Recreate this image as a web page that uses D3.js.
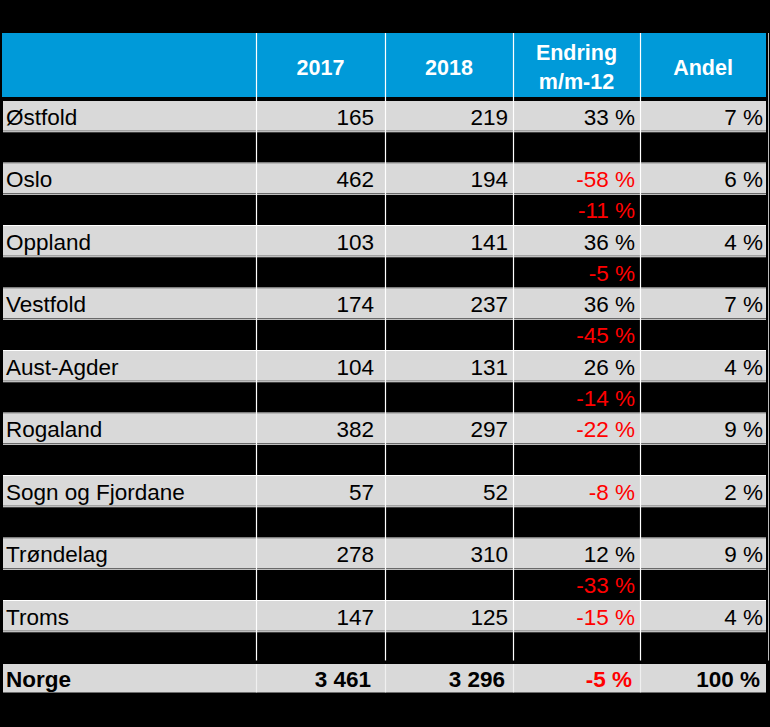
<!DOCTYPE html>
<html>
<head>
<meta charset="utf-8">
<script src="https://cdn.jsdelivr.net/npm/d3@7"></script>
<style>
  html, body { margin: 0; padding: 0; background: #000; }
  svg { display: block; }
  text { font-family: "Liberation Sans", Arial, sans-serif; }
</style>
</head>
<body>
<svg id="chart" width="770" height="727"></svg>
<script>
// ---- Data ----
const headers = ["", "2017", "2018", "Endring\nm/m-12", "Andel"];
const regions = ["Østfold", "Oslo", "Oppland", "Vestfold", "Aust-Agder", "Rogaland", "Sogn og Fjordane", "Trøndelag", "Troms"];
const values2017 = [165, 462, 103, 174, 104, 382, 57, 278, 147];
const values2018 = [219, 194, 141, 237, 131, 297, 52, 310, 125];
const changes = [33, -58, 36, 36, 26, -22, -8, 12, -15];
const shares = [7, 6, 4, 7, 4, 9, 2, 9, 4];
// values shown in the black spacer row below each region
const spacerChanges = [null, -11, -5, -45, -14, null, null, -33, null];
const totalLabel = "Norge";
const total2017 = 3461;
const total2018 = 3296;
const totalChange = -5;
const totalShare = 100;

// ---- Layout ----
const svg = d3.select("#chart");
const colEdges = [2, 256, 385, 513, 640, 766];
const colRightText = [null, 374, 508, 635, 763];
const headerTop = 33, headerBottom = 97;
const nRows = regions.length * 2 + 1; // region rows + spacer rows + total
const y = d3.scaleBand().domain(d3.range(nRows)).range([100, 100 + 31.25 * nRows]).paddingInner(0).paddingOuter(0);

const GRAY = "#d9d9d9", BLUE = "#009ad9", RED = "#ff0000";
const fmtNum = n => d3.format(",")(n).replace(/,/g, " ");
const fmtPct = n => n + " %";

// build rows
const rows = [];
regions.forEach((r, i) => {
  rows.push({ type: "data", cells: [r, fmtNum(values2017[i]), fmtNum(values2018[i]), fmtPct(changes[i]), fmtPct(shares[i])], neg: changes[i] < 0 });
  rows.push({ type: "spacer", cells: ["", "", "", spacerChanges[i] == null ? "" : fmtPct(spacerChanges[i]), ""], neg: spacerChanges[i] != null && spacerChanges[i] < 0 });
});
rows.push({ type: "total", cells: [totalLabel, fmtNum(total2017), fmtNum(total2018), fmtPct(totalChange), fmtPct(totalShare)], neg: totalChange < 0 });

// background
svg.append("rect").attr("width", 770).attr("height", 727).attr("fill", "#000");

// header
svg.append("rect").attr("x", colEdges[0]).attr("y", headerTop)
  .attr("width", colEdges[5] - colEdges[0]).attr("height", headerBottom - headerTop).attr("fill", BLUE);

// row backgrounds
rows.forEach((row, i) => {
  if (row.type === "spacer") return;
  const top = y(i);
  svg.append("rect")
    .attr("x", colEdges[0] + 1)
    .attr("y", row.type === "total" ? top + 1.5 : top + 1)
    .attr("width", colEdges[5] - colEdges[0] - 1)
    .attr("height", row.type === "total" ? 28.5 : y.bandwidth() - 1.5)
    .attr("fill", GRAY);
});

// horizontal white lines between region/spacer rows
const lines = svg.append("g").attr("stroke", "#fff").attr("stroke-width", 1.2);
for (let i = 1; i < nRows - 1; i++) {
  const yy = y(i) + 0.5;
  lines.append("line").attr("x1", colEdges[0] + 1).attr("x2", colEdges[5]).attr("y1", yy).attr("y2", yy);
}
// vertical white lines
colEdges.slice(1, 5).forEach(x => {
  lines.append("line").attr("x1", x + 0.5).attr("x2", x + 0.5).attr("y1", headerTop).attr("y2", y(nRows - 1) - 2);
  lines.append("line").attr("x1", x + 0.5).attr("x2", x + 0.5).attr("y1", y(nRows - 1) + 1.5).attr("y2", y(nRows - 1) + 30)
    .attr("stroke-opacity", 0.6);
});
// right border line
svg.append("line").attr("x1", 768.5).attr("x2", 768.5).attr("y1", headerTop).attr("y2", y(nRows - 1) - 2)
  .attr("stroke", "#bbb").attr("stroke-width", 1);

// header texts
headers.forEach((h, c) => {
  if (!h) return;
  const cx = (colEdges[c] + colEdges[c + 1]) / 2;
  const parts = h.split("\n");
  const t = svg.append("text").attr("x", cx).attr("text-anchor", "middle")
    .attr("fill", "#fff").attr("font-weight", "bold").attr("font-size", 21.5);
  if (parts.length === 1) {
    t.attr("y", 75).text(parts[0]);
  } else {
    t.append("tspan").attr("x", cx).attr("y", 60).text(parts[0]);
    t.append("tspan").attr("x", cx).attr("y", 89).text(parts[1]);
  }
});

// body texts
rows.forEach((row, i) => {
  const base = y(i) + (row.type === "total" ? 24.5 : 24.5) ;
  row.cells.forEach((txt, c) => {
    if (!txt) return;
    const t = svg.append("text")
      .attr("y", base)
      .attr("font-size", 22.5)
      .attr("font-weight", row.type === "total" ? "bold" : "normal")
      .text(txt);
    if (c === 0) {
      t.attr("x", 6).attr("fill", "#000");
    } else {
      t.attr("x", colRightText[c] - (row.type === "total" ? 3 : 0)).attr("text-anchor", "end")
        .attr("fill", c === 3 && row.neg ? RED : "#000");
    }
  });
});
</script>
</body>
</html>
